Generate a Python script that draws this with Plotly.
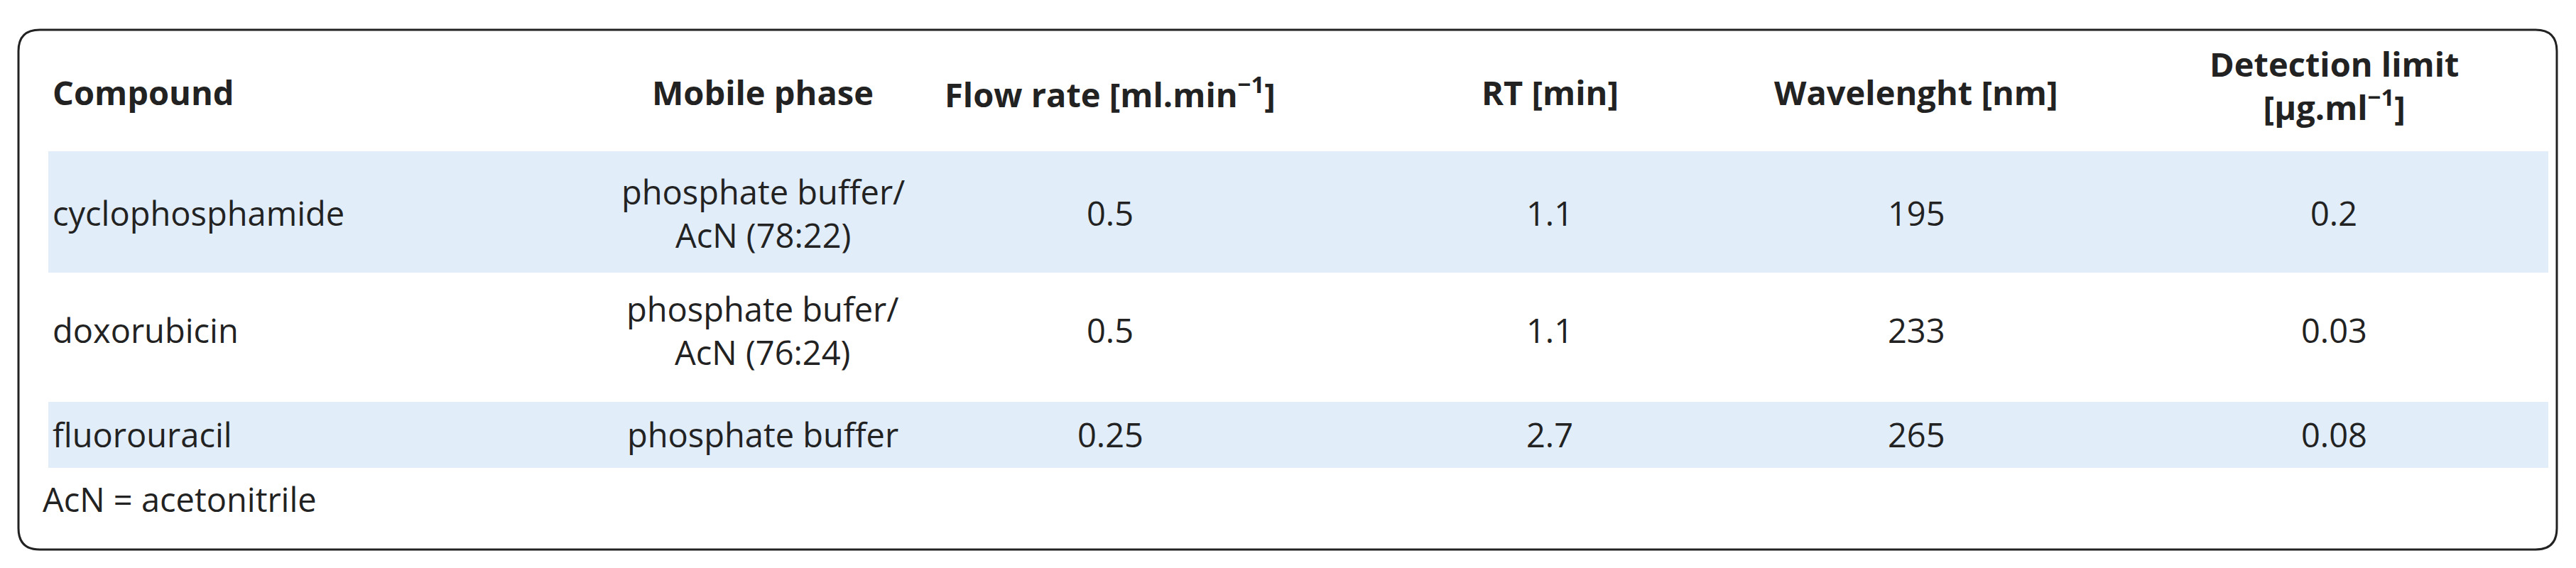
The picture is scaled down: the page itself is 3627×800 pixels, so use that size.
import plotly.graph_objects as go

headers = ["Compound", "Mobile phase", "Flow rate [ml.min<sup>−1</sup>]", "RT [min]",
           "Wavelenght [nm]", "Detection limit<br>[µg.ml<sup>−1</sup>]"]
compounds = ["cyclophosphamide", "doxorubicin", "fluorouracil"]
mobile_phase = ["phosphate buffer/<br>AcN (78:22)", "phosphate bufer/<br>AcN (76:24)", "phosphate buffer"]
flow_rate = ["0.5", "0.5", "0.25"]
rt = ["1.1", "1.1", "2.7"]
wavelength = ["195", "233", "265"]
detection_limit = ["0.2", "0.03", "0.08"]
footnote = "AcN = acetonitrile"

W, H = 3627, 800
col_x = [64, 1066, 1555, 2174, 2690, 3278]
header_y = 122
row_y = [292, 457, 604]
bands = [(205, 376), (558, 651)]
FONT = "Open Sans, sans-serif"
fs = 47

fig = go.Figure()
shapes = []
r = 30
x0, x1, y0, y1 = 18, 3592, 34, 766
shapes.append(dict(type="path", xref="x", yref="y",
    path=f"M{x0+r},{y0} L{x1-r},{y0} Q{x1},{y0} {x1},{y0+r} L{x1},{y1-r} Q{x1},{y1} {x1-r},{y1} "
         f"L{x0+r},{y1} Q{x0},{y1} {x0},{y1-r} L{x0},{y0+r} Q{x0},{y0} {x0+r},{y0} Z",
    line=dict(color="#222", width=3), fillcolor="white", layer="below"))
for b0, b1 in bands:
    shapes.append(dict(type="rect", xref="x", yref="y", x0=60, x1=3580, y0=b0, y1=b1,
                       fillcolor="#e1edf9", line=dict(width=0), layer="below"))

anns = []
for i, h in enumerate(headers):
    anns.append(dict(x=col_x[i], y=header_y if i < 5 else 112, text=f"<b>{h}</b>",
                     xanchor="left" if i == 0 else "center", yanchor="middle", showarrow=False,
                     font=dict(size=fs, color="#222", family=FONT)))
cols = [compounds, mobile_phase, flow_rate, rt, wavelength, detection_limit]
for ci, col in enumerate(cols):
    for ri, v in enumerate(col):
        anns.append(dict(x=col_x[ci], y=row_y[ri], text=v,
                         xanchor="left" if ci == 0 else "center", yanchor="middle", showarrow=False,
                         font=dict(size=fs, color="#222", family=FONT)))
anns.append(dict(x=50, y=695, text=footnote, xanchor="left", yanchor="middle", showarrow=False,
                 font=dict(size=fs, color="#222", family=FONT)))

fig.update_layout(width=W, height=H, margin=dict(l=0, r=0, t=0, b=0),
                  paper_bgcolor="white", plot_bgcolor="white", shapes=shapes, annotations=anns,
                  xaxis=dict(range=[0, W], visible=False, fixedrange=True),
                  yaxis=dict(range=[H, 0], visible=False, fixedrange=True),
                  showlegend=False)
fig.write_html("out.html")
